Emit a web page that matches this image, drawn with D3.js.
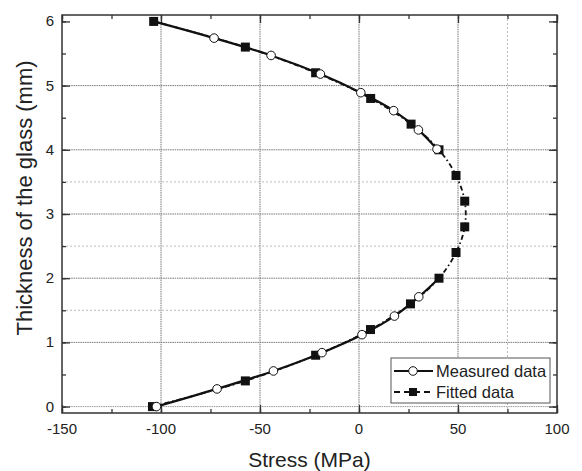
<!DOCTYPE html>
<html>
<head>
<meta charset="utf-8">
<script src="https://cdn.jsdelivr.net/npm/d3@7"></script>
<style>
  body { margin: 0; background: #fff; }
  svg text { font-family: "Liberation Sans", Arial, sans-serif; fill: #222; }
</style>
</head>
<body>
<svg id="chart" width="582" height="471"></svg>
<script>
// fitted profile (filled squares), thickness step 0.4 mm
var fittedStress = [-104.3, -57.4, -21.9, 5.8, 26.0, 40.4, 49.0, 53.4, 53.4, 49.0, 40.4, 26.3, 5.9, -21.9, -57.4, -103.7];
var fittedDepth  = [0, 0.4, 0.8, 1.2, 1.6, 2.0, 2.4, 2.8, 3.2, 3.6, 4.0, 4.4, 4.8, 5.2, 5.6, 6.0];

// measured (open circles), lower and upper surface
var lowerStress = [-102.3, -71.7, -43.2, -18.7, 1.5, 17.9, 30.2];
var lowerDepth  = [0, 0.275, 0.555, 0.84, 1.12, 1.41, 1.71];
var upperStress = [39.4, 30.0, 17.5, 0.9, -19.5, -44.4, -73.2];
var upperDepth  = [4.01, 4.31, 4.61, 4.89, 5.18, 5.47, 5.74];

var xTicks = [-150, -100, -50, 0, 50, 100];
var yTicks = [0, 1, 2, 3, 4, 5, 6];
var xMinorGrid = [75];
var yMinorGrid = [1.5, 2.5, 3.5];

var margin = { top: 15, right: 25, bottom: 58, left: 62 };
var width = 582 - margin.left - margin.right;
var height = 471 - margin.top - margin.bottom;

var svg = d3.select('#chart');
var g = svg.append('g').attr('transform', 'translate(' + margin.left + ',' + margin.top + ')');

var x = d3.scaleLinear().domain([-150, 100]).range([0, width]);
var y = d3.scaleLinear().domain([-0.1, 6.1]).range([height, 0]);

var zip = function(xs, ys){ return xs.map(function(v, i){ return { x: v, y: ys[i] }; }); };
var fitted = zip(fittedStress, fittedDepth);
var lower = zip(lowerStress, lowerDepth);
var upper = zip(upperStress, upperDepth);

// grid
var grid = g.append('g');
grid.selectAll('.gx').data(xTicks.slice(1, -1)).enter().append('line')
  .attr('x1', x).attr('x2', x).attr('y1', 0).attr('y2', height)
  .attr('stroke', '#777').attr('stroke-dasharray', '1.5,0.8');
grid.selectAll('.gy').data(yTicks.slice(1, -1)).enter().append('line')
  .attr('y1', y).attr('y2', y).attr('x1', 0).attr('x2', width)
  .attr('stroke', '#777').attr('stroke-dasharray', '1.5,0.8');
grid.selectAll('.gy0').data([0]).enter().append('line')
  .attr('y1', y).attr('y2', y).attr('x1', 0).attr('x2', width)
  .attr('stroke', '#999').attr('stroke-dasharray', '1.5,0.8');
grid.selectAll('.mx').data(xMinorGrid).enter().append('line')
  .attr('x1', x).attr('x2', x).attr('y1', 0).attr('y2', height)
  .attr('stroke', '#bbb').attr('stroke-dasharray', '2,2');
grid.selectAll('.my').data(yMinorGrid).enter().append('line')
  .attr('y1', y).attr('y2', y).attr('x1', 0).attr('x2', width)
  .attr('stroke', '#bbb').attr('stroke-dasharray', '2,2');

// axes with inward ticks
var xMinor = d3.range(-150, 101, 25);
var yMinor = d3.range(0, 6.01, 0.5);
function styleAxis(sel){
  sel.select('.domain').remove();
  sel.selectAll('line').attr('stroke', '#333').attr('stroke-width', 1.3);
  sel.selectAll('text').remove();
}
g.append('g').attr('transform', 'translate(0,' + height + ')')
  .call(d3.axisBottom(x).tickValues(xMinor).tickSize(-4)).call(styleAxis);
g.append('g').attr('transform', 'translate(0,' + height + ')')
  .call(d3.axisBottom(x).tickValues(xTicks).tickSize(-8)).call(styleAxis);
g.append('g').call(d3.axisTop(x).tickValues(xMinor).tickSize(-4)).call(styleAxis);
g.append('g').call(d3.axisTop(x).tickValues(xTicks).tickSize(-8)).call(styleAxis);
g.append('g').call(d3.axisLeft(y).tickValues(yMinor).tickSize(-4)).call(styleAxis);
g.append('g').call(d3.axisLeft(y).tickValues(yTicks).tickSize(-8)).call(styleAxis);
g.append('g').attr('transform', 'translate(' + width + ',0)')
  .call(d3.axisRight(y).tickValues(yMinor).tickSize(-4)).call(styleAxis);
g.append('g').attr('transform', 'translate(' + width + ',0)')
  .call(d3.axisRight(y).tickValues(yTicks).tickSize(-8)).call(styleAxis);

g.append('rect').attr('width', width).attr('height', height)
  .attr('fill', 'none').attr('stroke', '#333').attr('stroke-width', 1.5);

// tick labels
g.selectAll('.xl').data(xTicks).enter().append('text')
  .attr('x', x).attr('y', height + 21).attr('text-anchor', 'middle')
  .style('font-size', '15px').text(function(d){ return d; });
g.selectAll('.yl').data(yTicks).enter().append('text')
  .attr('x', -8).attr('y', function(d){ return y(d) + 5; }).attr('text-anchor', 'end')
  .style('font-size', '15px').text(function(d){ return d; });

// axis titles
svg.append('text').attr('x', margin.left + width / 2).attr('y', 467)
  .attr('text-anchor', 'middle').style('font-size', '21px').text('Stress (MPa)');
svg.append('text').attr('transform', 'translate(32,198) rotate(-90)')
  .attr('text-anchor', 'middle').style('font-size', '22px').text('Thickness of the glass (mm)');

// lines
var line = d3.line().x(function(d){ return x(d.x); }).y(function(d){ return y(d.y); }).curve(d3.curveCatmullRom);
g.append('path').datum(fitted).attr('d', line)
  .attr('fill', 'none').attr('stroke', '#111').attr('stroke-width', 1.8).attr('stroke-dasharray', '5,3,1.5,3');
// solid measured segments run on to the fitted end points at 2.0 and 6.0 mm
g.append('path').datum(lower.concat([fitted[5]])).attr('d', line)
  .attr('fill', 'none').attr('stroke', '#111').attr('stroke-width', 2.2);
g.append('path').datum(upper.concat([fitted[15]])).attr('d', line)
  .attr('fill', 'none').attr('stroke', '#111').attr('stroke-width', 2.2);

// markers
g.selectAll('.sq').data(fitted).enter().append('rect')
  .attr('x', function(d){ return x(d.x) - 4.5; }).attr('y', function(d){ return y(d.y) - 4.5; })
  .attr('width', 9).attr('height', 9).attr('fill', '#111');
g.selectAll('.ci').data(lower.concat(upper)).enter().append('circle')
  .attr('cx', function(d){ return x(d.x); }).attr('cy', function(d){ return y(d.y); })
  .attr('r', 4.3).attr('fill', '#fff').attr('stroke', '#111').attr('stroke-width', 1);

// legend
var lg = g.append('g').attr('transform', 'translate(' + (391 - margin.left) + ',' + (358 - margin.top) + ')');
lg.append('rect').attr('width', 159).attr('height', 45).attr('fill', '#fff').attr('stroke', '#555').attr('stroke-width', 1);
lg.append('line').attr('x1', 3).attr('x2', 42).attr('y1', 13).attr('y2', 13).attr('stroke', '#111').attr('stroke-width', 2);
lg.append('circle').attr('cx', 22).attr('cy', 13).attr('r', 4.3).attr('fill', '#fff').attr('stroke', '#111');
lg.append('text').attr('x', 45).attr('y', 19).style('font-size', '16.5px').text('Measured data');
lg.append('line').attr('x1', 3).attr('x2', 42).attr('y1', 34).attr('y2', 34).attr('stroke', '#111').attr('stroke-width', 1.8).attr('stroke-dasharray', '6,4');
lg.append('rect').attr('x', 18).attr('y', 30).attr('width', 8).attr('height', 8).attr('fill', '#111');
lg.append('text').attr('x', 45).attr('y', 40).style('font-size', '16.5px').text('Fitted data');
</script>
</body>
</html>
